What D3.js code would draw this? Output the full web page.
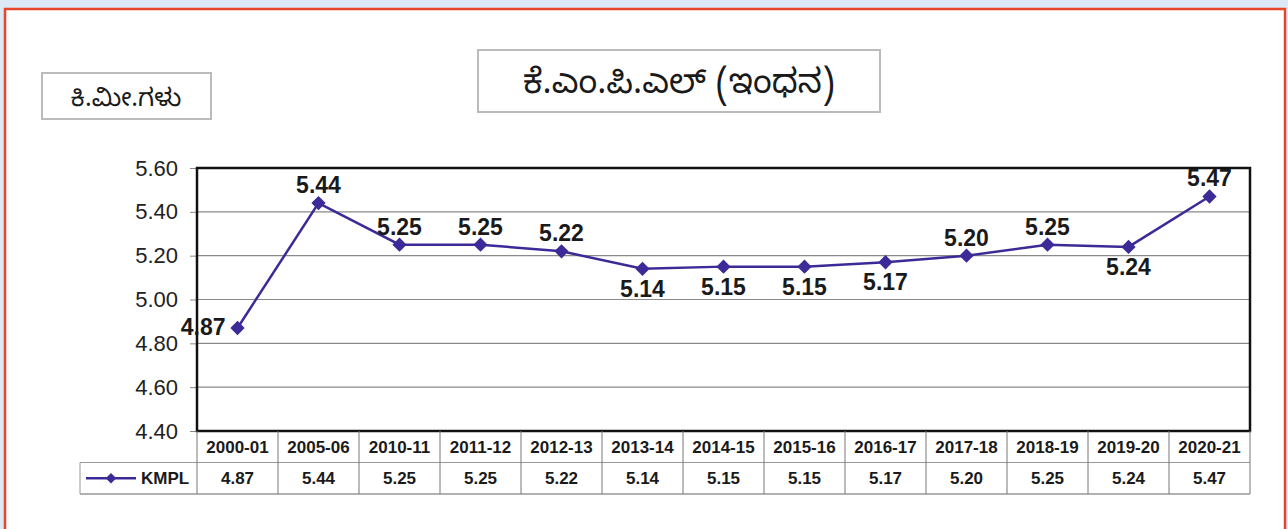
<!DOCTYPE html>
<html>
<head>
<meta charset="utf-8">
<script src="https://cdn.jsdelivr.net/npm/d3@7"></script>
<style>
  body { margin: 0; background: #dde9f7; }
  svg { display: block; }
</style>
</head>
<body>
<svg id="chart" width="1288" height="529"></svg>
<script>
// data
const years = ["2000-01", "2005-06", "2010-11", "2011-12", "2012-13", "2013-14", "2014-15",
  "2015-16", "2016-17", "2017-18", "2018-19", "2019-20", "2020-21"];
const kmpl = [4.87, 5.44, 5.25, 5.25, 5.22, 5.14, 5.15, 5.15, 5.17, 5.20, 5.25, 5.24, 5.47];
const yTicks = [4.40, 4.60, 4.80, 5.00, 5.20, 5.40, 5.60];
// where the value label sits: a = above, b = below, l = left
const labelPos = ["l", "a", "a", "a", "a", "b", "b", "b", "b", "a", "a", "b", "a"];
const seriesName = "KMPL";
const titleText = "ಕೆ.ಎಂ.ಪಿ.ಎಲ್ (ಇಂಧನ)";
const unitText = "ಕಿ.ಮೀ.ಗಳು";

const svg = d3.select("#chart");
const lineColor = "#3b2a98";
const font = "Liberation Sans, Arial, sans-serif";

// page frame
svg.append("rect").attr("x", 0).attr("y", 0).attr("width", 1288).attr("height", 8).attr("fill", "#dde9f7");
svg.append("rect").attr("x", 5).attr("y", 9).attr("width", 1280).attr("height", 530)
  .attr("fill", "#fff").attr("stroke", "#e8462a").attr("stroke-width", 2.5);

// plot area
const pLeft = 197, pRight = 1250, pTop = 168, pBottom = 431;

const x = d3.scaleBand().domain(years).range([pLeft, pRight]);
const y = d3.scaleLinear().domain([4.4, 5.6]).range([pBottom, pTop]);

// gridlines
svg.append("g")
  .selectAll("line")
  .data(yTicks.slice(1, -1))
  .join("line")
  .attr("x1", pLeft).attr("x2", pRight)
  .attr("y1", d => y(d)).attr("y2", d => y(d))
  .attr("stroke", "#8a8a8a").attr("stroke-width", 1.2);

// y axis
const yAxis = d3.axisLeft(y).tickValues(yTicks).tickFormat(d3.format(".2f")).tickSize(7).tickPadding(12);
const ya = svg.append("g").attr("transform", "translate(" + pLeft + ",0)").call(yAxis);
ya.select(".domain").remove();
ya.selectAll("line").attr("stroke", "#888");
ya.selectAll("text").attr("font-family", font).attr("font-size", "22px").attr("fill", "#222");

// plot border
svg.append("rect").attr("x", pLeft).attr("y", pTop).attr("width", pRight - pLeft).attr("height", pBottom - pTop)
  .attr("fill", "none").attr("stroke", "#111").attr("stroke-width", 2.5);

// data table
const rowH = 31.5;
const tbl = svg.append("g");
const legendLeft = 80;
tbl.append("line").attr("x1", legendLeft).attr("x2", pRight).attr("y1", pBottom + rowH).attr("y2", pBottom + rowH)
  .attr("stroke", "#999").attr("stroke-width", 1);
tbl.append("line").attr("x1", legendLeft).attr("x2", pRight).attr("y1", pBottom + 2 * rowH).attr("y2", pBottom + 2 * rowH)
  .attr("stroke", "#999").attr("stroke-width", 1.5);
tbl.append("line").attr("x1", legendLeft).attr("x2", legendLeft).attr("y1", pBottom + rowH).attr("y2", pBottom + 2 * rowH)
  .attr("stroke", "#999");
tbl.selectAll("line.v")
  .data(years.concat(["end"]))
  .join("line")
  .attr("class", "v")
  .attr("x1", (d, i) => i < years.length ? x(d) : pRight)
  .attr("x2", (d, i) => i < years.length ? x(d) : pRight)
  .attr("y1", pBottom).attr("y2", pBottom + 2 * rowH)
  .attr("stroke", "#777").attr("stroke-width", 1);

tbl.selectAll("text.yr")
  .data(years)
  .join("text")
  .attr("class", "yr")
  .attr("x", d => x(d) + x.bandwidth() / 2)
  .attr("y", pBottom + rowH / 2 + 6)
  .attr("text-anchor", "middle")
  .attr("font-family", font).attr("font-weight", "bold").attr("font-size", "17px").attr("fill", "#1a1a1a")
  .text(d => d);

tbl.selectAll("text.val")
  .data(kmpl)
  .join("text")
  .attr("class", "val")
  .attr("x", (d, i) => x(years[i]) + x.bandwidth() / 2)
  .attr("y", pBottom + rowH * 1.5 + 6)
  .attr("text-anchor", "middle")
  .attr("font-family", font).attr("font-weight", "bold").attr("font-size", "17px").attr("fill", "#1a1a1a")
  .text(d => d.toFixed(2));

// legend key
const ly = pBottom + rowH * 1.5;
tbl.append("line").attr("x1", 86).attr("x2", 136).attr("y1", ly).attr("y2", ly)
  .attr("stroke", lineColor).attr("stroke-width", 2.5);
tbl.append("path").attr("d", d3.symbol(d3.symbolDiamond2, 70)())
  .attr("transform", "translate(111," + ly + ")").attr("fill", lineColor);
tbl.append("text").attr("x", 141).attr("y", ly + 6)
  .attr("font-family", font).attr("font-weight", "bold").attr("font-size", "17px").attr("fill", "#1a1a1a")
  .text(seriesName);

// series line
const line = d3.line()
  .x((d, i) => x(years[i]) + x.bandwidth() / 2)
  .y(d => y(d));

svg.append("path").datum(kmpl)
  .attr("d", line)
  .attr("fill", "none").attr("stroke", lineColor).attr("stroke-width", 2.5);

svg.append("g").selectAll("path")
  .data(kmpl)
  .join("path")
  .attr("d", d3.symbol(d3.symbolDiamond2, 130)())
  .attr("transform", (d, i) => "translate(" + (x(years[i]) + x.bandwidth() / 2) + "," + y(d) + ")")
  .attr("fill", lineColor);

// value labels
svg.append("g").selectAll("text")
  .data(kmpl)
  .join("text")
  .attr("x", (d, i) => {
    const cx = x(years[i]) + x.bandwidth() / 2;
    return labelPos[i] === "l" ? cx - 12 : cx;
  })
  .attr("y", (d, i) => {
    if (labelPos[i] === "a") return y(d) - 10;
    if (labelPos[i] === "b") return y(d) + 28;
    return y(d) + 7;
  })
  .attr("text-anchor", (d, i) => labelPos[i] === "l" ? "end" : "middle")
  .attr("font-family", font).attr("font-weight", "bold").attr("font-size", "23px").attr("fill", "#1a1a1a")
  .text(d => d.toFixed(2));

// title box
svg.append("rect").attr("x", 478).attr("y", 50).attr("width", 402).attr("height", 62)
  .attr("fill", "#fff").attr("stroke", "#bbb").attr("stroke-width", 2);
svg.append("text").attr("x", 679).attr("y", 93).attr("text-anchor", "middle")
  .attr("font-family", "Noto Sans Kannada, Noto Sans, sans-serif").attr("font-size", "34px").attr("fill", "#1a1a1a")
  .text(titleText);

// unit box
svg.append("rect").attr("x", 42).attr("y", 73).attr("width", 169).attr("height", 46)
  .attr("fill", "#fff").attr("stroke", "#bbb").attr("stroke-width", 2);
svg.append("text").attr("x", 126).attr("y", 106).attr("text-anchor", "middle")
  .attr("font-family", "Noto Sans Kannada, Noto Sans, sans-serif").attr("font-size", "25px").attr("fill", "#1a1a1a")
  .text(unitText);
</script>
</body>
</html>
